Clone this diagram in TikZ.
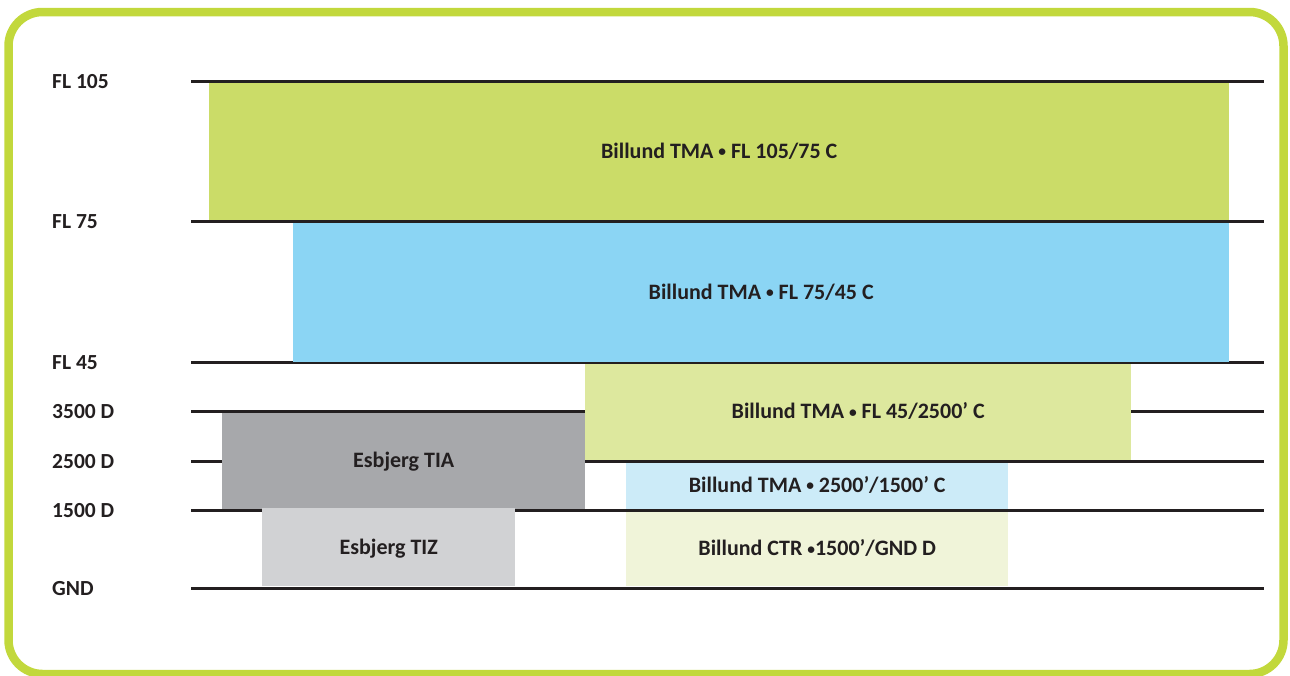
\documentclass[tikz,border=0pt]{standalone}
\usepackage{fontspec}
\setmainfont{Carlito}
\definecolor{framegreen}{RGB}{194, 216, 60}
\definecolor{levelgray}{RGB}{35, 31, 32}
\definecolor{tmagreen}{RGB}{203, 220, 104}
\definecolor{tmablue}{RGB}{139, 213, 244}
\definecolor{tmapale}{RGB}{221, 232, 158}
\definecolor{tmaice}{RGB}{204, 235, 248}
\definecolor{ctrcream}{RGB}{240, 244, 217}
\definecolor{tiagray}{RGB}{167, 168, 171}
\definecolor{tizgray}{RGB}{209, 210, 212}
\newcommand{\tmadot}{\raisebox{1.8pt}{\scalebox{0.7}{•}}}
\tikzset{
	frame/.style={draw=framegreen, line width=8.5pt, rounded corners=34pt},
	level/.style={draw=levelgray, line width=3pt},
	levellabel/.style={anchor=base west, inner sep=0pt, text=levelgray, font=\bfseries\fontsize{21.5}{21.5}\selectfont},
	airspace/.style n args={3}{rectangle, anchor=north west, inner sep=0pt, fill=#1, minimum width=#2pt, minimum height=#3pt, text height=14pt, text depth=0pt, align=center, text=levelgray, font=\bfseries\fontsize{22}{22}\selectfont},
}

\begin{document}
\begin{tikzpicture}[x=1pt, y=-1pt]
		\useasboundingbox (0,0) rectangle (1290,675);
		\draw[frame] (8.5,12) rectangle (1283.5,674);
		% flight levels
		\foreach \lab/\y [count=\i] in {FL 105/81, FL 75/221, FL 45/362, 3500 D/411, 2500 D/461, 1500 D/510, GND/588}{
			\coordinate (lvlL\i) at (191,\y);
			\coordinate (lvlR\i) at (1264,\y);
			\draw[level] (lvlL\i) -- (lvlR\i);
			\node[levellabel] (lab\i) at (52,\y+7) {\lab};
		}
		% airspace blocks
		\node[airspace={tmagreen}{1020}{137}] (tma105) at (209,83) {Billund TMA \tmadot{} FL 105/75 C};
		\node[airspace={tmablue}{936}{139}] (tma75) at (293,222.5) {Billund TMA \tmadot{} FL 75/45 C};
		\node[airspace={tmapale}{546}{96.5}] (tma45) at (585,363.5) {Billund TMA \tmadot{} FL 45/2500’ C};
		\node[airspace={tiagray}{363}{96}] (tia) at (222,412.5) {Esbjerg TIA};
		\node[airspace={tizgray}{253}{78}] (tiz) at (262,508) {Esbjerg TIZ};
		\node[airspace={tmaice}{382}{46}] (tma25) at (626,462.5) {Billund TMA \tmadot{} 2500’/1500’ C};
		\node[airspace={ctrcream}{382}{74.5}] (ctr) at (626,511.5) {Billund CTR \tmadot{}1500’/GND D};
	\end{tikzpicture}
\end{document}
